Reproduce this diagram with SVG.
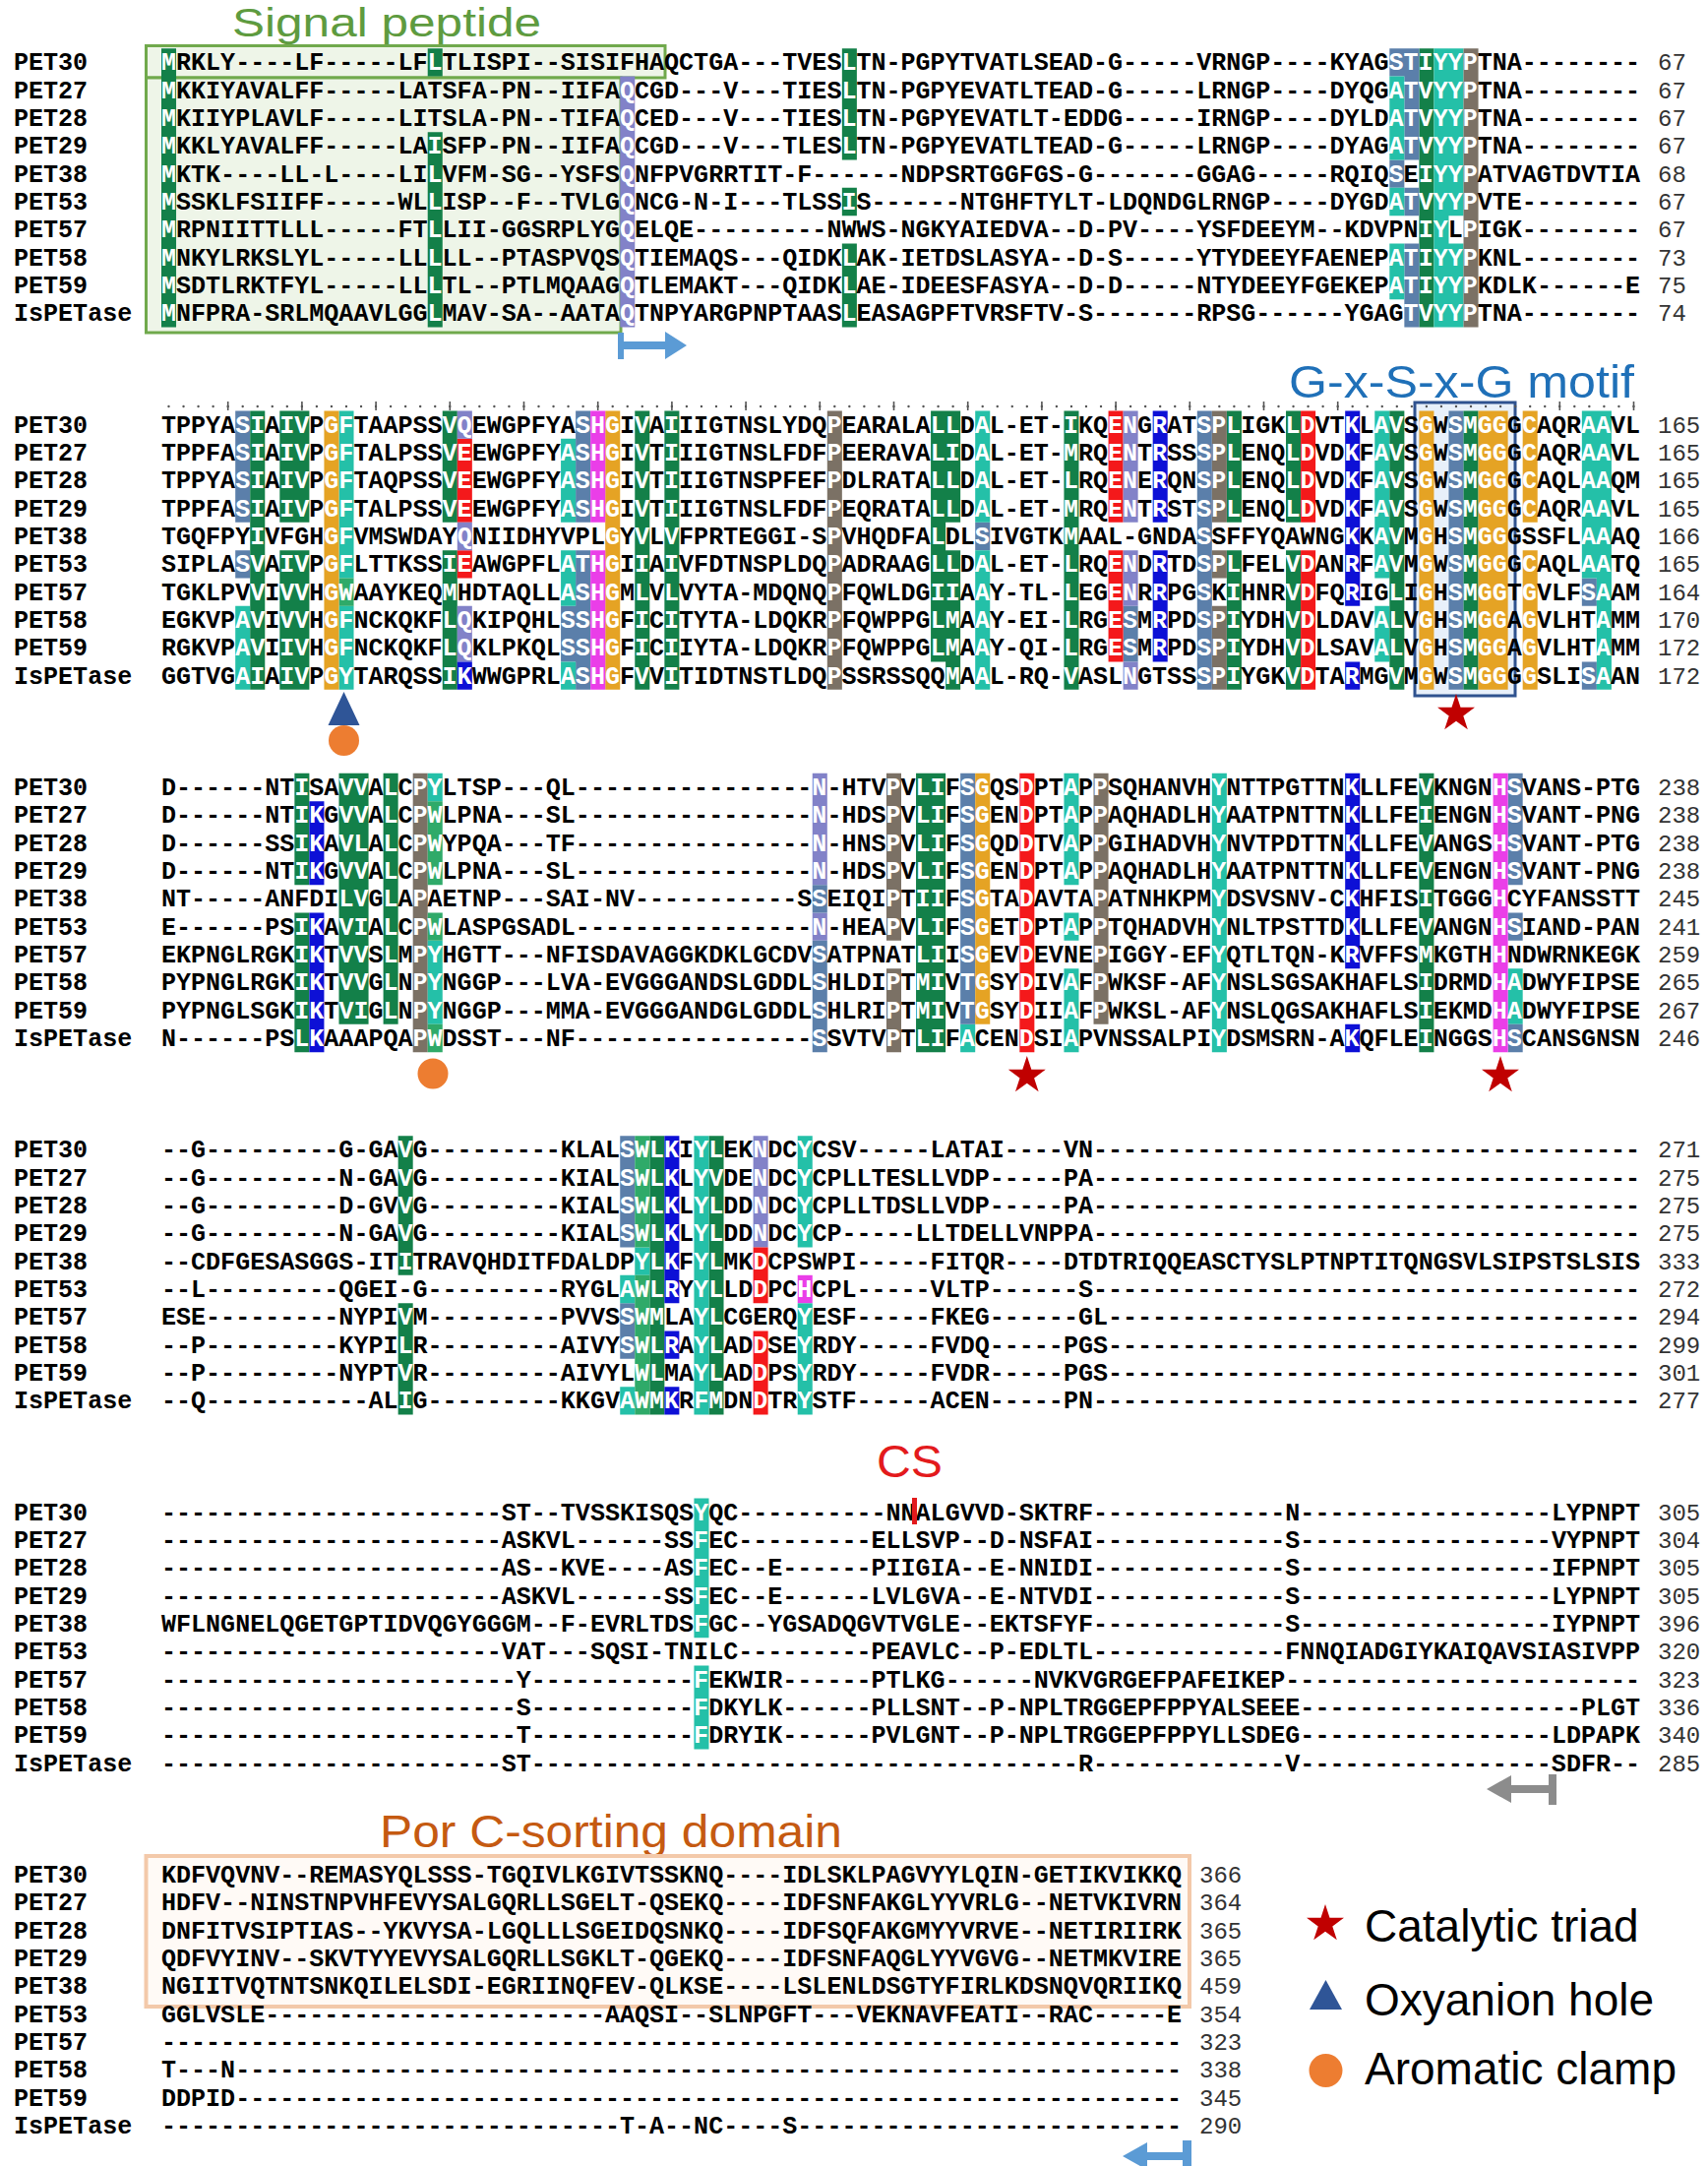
<svg xmlns="http://www.w3.org/2000/svg" width="1736" height="2201" viewBox="0 0 1736 2201">
<style>
.s{font:700 25.06px "Liberation Mono",monospace;fill:#000}
.s tspan{fill:#fff}
.n{font:400 24px "Liberation Mono",monospace;fill:#333}
.ttl{font-family:"Liberation Sans",Arial,sans-serif}
.cg{fill:#138049}.ct{fill:#24c0a8}.cs{fill:#5b7faa}.cp{fill:#7b7165}.co{fill:#e5a324}
.cm{fill:#ea3ee8}.cr{fill:#f4191b}.cq{fill:#8282c8}.cb{fill:#0d10d6}.cw{fill:#2faa69}
</style>
<defs>
<polygon id="star" points="0,-20 4.5,-6.2 19,-6.2 7.3,2.4 11.8,16.2 0,7.7 -11.8,16.2 -7.3,2.4 -19,-6.2 -4.5,-6.2" fill="#c00000"/>
</defs>
<rect width="1736" height="2201" fill="#fff"/>

<!-- titles -->
<text class="ttl" x="236" y="37" font-size="41" fill="#5e9b3f" textLength="314" lengthAdjust="spacingAndGlyphs">Signal peptide</text>
<text class="ttl" x="1310" y="404" font-size="46" fill="#1f70b8" textLength="351" lengthAdjust="spacingAndGlyphs">G-x-S-x-G motif</text>
<text class="ttl" x="891" y="1501" font-size="46" fill="#e31a1c" textLength="67" lengthAdjust="spacingAndGlyphs">CS</text>
<text class="ttl" x="386" y="1877" font-size="46" fill="#c55a11" textLength="470" lengthAdjust="spacingAndGlyphs">Por C-sorting domain</text>

<!-- boxes behind -->
<rect x="148.5" y="46.5" width="527.5" height="32.5" fill="#eef5e8" stroke="#70a94c" stroke-width="3"/>
<rect x="148.5" y="79" width="482.5" height="259" fill="#eef5e8" stroke="#70a94c" stroke-width="3"/>
<rect x="1438" y="409" width="102" height="298" fill="#e8f0fa" stroke="#2f528f" stroke-width="3"/>
<rect x="148.5" y="1886" width="1060.5" height="153" fill="#fffaf6" stroke="#f3c9aa" stroke-width="4"/>

<!-- ruler above block 2 -->
<line x1="171.5" y1="413" x2="1668" y2="413" stroke="#555" stroke-width="2.4" stroke-linecap="round" stroke-dasharray="0 15.04"/>
<path stroke="#555" stroke-width="1.6" d="M231.7 408v9M306.9 408v9M382.1 408v9M457.3 408v9M532.5 408v9M607.7 408v9M682.9 408v9M758.1 408v9M833.3 408v9M908.5 408v9M983.7 408v9M1058.9 408v9M1134.1 408v9M1209.3 408v9M1284.5 408v9M1359.7 408v9M1585.3 408v9M1660.5 408v9"/>

<!-- BLOCK 1 -->
<g id="block1">
<g transform="translate(164,49.13) scale(15.04,28.333)">
<path class="cg" d="M0 0h1v10h-1zM18 0h1v1h-1zM18 3h1v7h-1zM46 0h1v4h-1zM46 5h1v1h-1zM46 7h1v3h-1zM85 0h1v10h-1z"/>
<path class="cq" d="M31 1h1v9h-1z"/>
<path class="cs" d="M83 0h1v1h-1zM83 4h1v1h-1zM84 0h1v4h-1zM84 5h1v1h-1zM84 7h1v3h-1z"/>
<path class="ct" d="M83 1h1v3h-1zM83 5h1v1h-1zM83 7h1v2h-1zM86 0h1v10h-1zM87 0h1v6h-1zM87 7h1v3h-1z"/>
<path class="cp" d="M88 0h1v10h-1z"/>
</g>
<text class="s" x="14" y="71.3">PET30</text>
<text class="s" x="14" y="99.63">PET27</text>
<text class="s" x="14" y="127.97">PET28</text>
<text class="s" x="14" y="156.3">PET29</text>
<text class="s" x="14" y="184.63">PET38</text>
<text class="s" x="14" y="212.97">PET53</text>
<text class="s" x="14" y="241.3">PET57</text>
<text class="s" x="14" y="269.63">PET58</text>
<text class="s" x="14" y="297.97">PET59</text>
<text class="s" x="14" y="326.3">IsPETase</text>
<text class="s" x="164" y="71.3"><tspan>M</tspan>RKLY----LF-----LF<tspan>L</tspan>TLISPI--SISIFHAQCTGA---TVES<tspan>L</tspan>TN-PGPYTVATLSEAD-G-----VRNGP----KYAG<tspan>STIYYP</tspan>TNA--------</text>
<text class="s" x="164" y="99.63"><tspan>M</tspan>KKIYAVALFF-----LATSFA-PN--IIFA<tspan>Q</tspan>CGD---V---TIES<tspan>L</tspan>TN-PGPYEVATLTEAD-G-----LRNGP----DYQG<tspan>ATVYYP</tspan>TNA--------</text>
<text class="s" x="164" y="127.97"><tspan>M</tspan>KIIYPLAVLF-----LITSLA-PN--TIFA<tspan>Q</tspan>CED---V---TIES<tspan>L</tspan>TN-PGPYEVATLT-EDDG-----IRNGP----DYLD<tspan>ATVYYP</tspan>TNA--------</text>
<text class="s" x="164" y="156.3"><tspan>M</tspan>KKLYAVALFF-----LA<tspan>I</tspan>SFP-PN--IIFA<tspan>Q</tspan>CGD---V---TLES<tspan>L</tspan>TN-PGPYEVATLTEAD-G-----LRNGP----DYAG<tspan>ATVYYP</tspan>TNA--------</text>
<text class="s" x="164" y="184.63"><tspan>M</tspan>KTK----LL-L----LI<tspan>L</tspan>VFM-SG--YSFS<tspan>Q</tspan>NFPVGRRTIT-F------NDPSRTGGFGS-G-------GGAG-----RQIQ<tspan>S</tspan>E<tspan>IYYP</tspan>ATVAGTDVTIA</text>
<text class="s" x="164" y="212.97"><tspan>M</tspan>SSKLFSIIFF-----WL<tspan>L</tspan>ISP--F--TVLG<tspan>Q</tspan>NCG-N-I---TLSS<tspan>I</tspan>S------NTGHFTYLT-LDQNDGLRNGP----DYGD<tspan>ATVYYP</tspan>VTE--------</text>
<text class="s" x="164" y="241.3"><tspan>M</tspan>RPNIITTLLL-----FT<tspan>L</tspan>LII-GGSRPLYG<tspan>Q</tspan>ELQE---------NWWS-NGKYAIEDVA--D-PV----YSFDEEYM--KDVPN<tspan>IY</tspan>L<tspan>P</tspan>IGK--------</text>
<text class="s" x="164" y="269.63"><tspan>M</tspan>NKYLRKSLYL-----LL<tspan>L</tspan>LL--PTASPVQS<tspan>Q</tspan>TIEMAQS---QIDK<tspan>L</tspan>AK-IETDSLASYA--D-S-----YTYDEEYFAENEP<tspan>ATIYYP</tspan>KNL--------</text>
<text class="s" x="164" y="297.97"><tspan>M</tspan>SDTLRKTFYL-----LL<tspan>L</tspan>TL--PTLMQAAG<tspan>Q</tspan>TLEMAKT---QIDK<tspan>L</tspan>AE-IDEESFASYA--D-D-----NTYDEEYFGEKEP<tspan>ATIYYP</tspan>KDLK------E</text>
<text class="s" x="164" y="326.3"><tspan>M</tspan>NFPRA-SRLMQAAVLGG<tspan>L</tspan>MAV-SA--AATA<tspan>Q</tspan>TNPYARGPNPTAAS<tspan>L</tspan>EASAGPFTVRSFTV-S-------RPSG------YGAG<tspan>TVYYP</tspan>TNA--------</text>
<text class="n" x="1685" y="71.3">67</text>
<text class="n" x="1685" y="99.63">67</text>
<text class="n" x="1685" y="127.97">67</text>
<text class="n" x="1685" y="156.3">67</text>
<text class="n" x="1685" y="184.63">68</text>
<text class="n" x="1685" y="212.97">67</text>
<text class="n" x="1685" y="241.3">67</text>
<text class="n" x="1685" y="269.63">73</text>
<text class="n" x="1685" y="297.97">75</text>
<text class="n" x="1685" y="326.3">74</text>
</g>

<!-- BLOCK 2 -->
<g id="block2" transform="translate(0,368.333)">
<g transform="translate(164,49.13) scale(15.04,28.333)">
<path class="cs" d="M5 0h1v4h-1zM5 5h1v1h-1zM28 0h1v4h-1zM28 5h1v5h-1zM27 7h1v2h-1zM55 4h1v1h-1zM65 7h1v2h-1zM70 0h1v10h-1zM87 0h1v10h-1zM96 6h1v1h-1zM96 9h1v1h-1z"/>
<path class="ct" d="M5 7h1v3h-1zM12 0h1v6h-1zM12 7h1v3h-1zM27 1h1v3h-1zM27 5h1v2h-1zM27 9h1v1h-1zM55 0h1v4h-1zM55 5h1v5h-1zM82 0h1v6h-1zM82 7h1v2h-1zM96 0h1v6h-1zM97 0h1v10h-1z"/>
<path class="cg" d="M6 0h1v10h-1zM8 0h2v4h-2zM8 5h2v5h-2zM19 0h1v4h-1zM19 5h1v5h-1zM32 0h1v10h-1zM34 0h1v10h-1zM52 0h1v9h-1zM53 0h1v4h-1zM53 5h1v5h-1zM61 0h1v10h-1zM72 0h1v4h-1zM72 5h1v5h-1zM76 0h1v4h-1zM76 5h1v5h-1zM83 0h1v10h-1zM88 0h1v10h-1z"/>
<path class="cw" d="M12 6h1v1h-1z"/>
<path class="co" d="M11 0h1v10h-1zM30 0h1v10h-1zM85 0h1v10h-1zM89 0h2v10h-2zM92 0h1v4h-1zM92 5h1v5h-1z"/>
<path class="cm" d="M29 0h1v4h-1zM29 5h1v5h-1z"/>
<path class="cr" d="M20 1h1v3h-1zM20 5h1v1h-1zM64 0h1v4h-1zM64 5h1v4h-1zM77 0h1v4h-1zM77 5h1v5h-1z"/>
<path class="cq" d="M20 0h1v1h-1zM20 4h1v1h-1zM20 7h1v2h-1zM65 0h1v4h-1zM65 5h1v2h-1zM65 9h1v1h-1z"/>
<path class="cb" d="M20 9h1v1h-1zM67 0h1v4h-1zM67 5h1v4h-1zM80 0h1v7h-1zM80 9h1v1h-1z"/>
<path class="cp" d="M45 0h1v10h-1zM71 0h1v4h-1zM71 5h1v1h-1zM71 7h1v3h-1z"/>
</g>
<text class="s" x="14" y="71.3">PET30</text>
<text class="s" x="14" y="99.63">PET27</text>
<text class="s" x="14" y="127.97">PET28</text>
<text class="s" x="14" y="156.3">PET29</text>
<text class="s" x="14" y="184.63">PET38</text>
<text class="s" x="14" y="212.97">PET53</text>
<text class="s" x="14" y="241.3">PET57</text>
<text class="s" x="14" y="269.63">PET58</text>
<text class="s" x="14" y="297.97">PET59</text>
<text class="s" x="14" y="326.3">IsPETase</text>
<text class="s" x="164" y="71.3">TPPYA<tspan>SI</tspan>A<tspan>IV</tspan>P<tspan>GF</tspan>TAAPSS<tspan>VQ</tspan>EWGPFYA<tspan>SHG</tspan>I<tspan>V</tspan>A<tspan>I</tspan>IIGTNSLYDQ<tspan>P</tspan>EARALA<tspan>LL</tspan>D<tspan>A</tspan>L-ET-<tspan>I</tspan>KQ<tspan>EN</tspan>G<tspan>R</tspan>AT<tspan>SPL</tspan>IGK<tspan>LD</tspan>VT<tspan>K</tspan>L<tspan>AV</tspan>S<tspan>G</tspan>W<tspan>SMGG</tspan>G<tspan>C</tspan>AQR<tspan>AA</tspan>VL</text>
<text class="s" x="164" y="99.63">TPPFA<tspan>SI</tspan>A<tspan>IV</tspan>P<tspan>GF</tspan>TALPSS<tspan>VE</tspan>EWGPFY<tspan>ASHG</tspan>I<tspan>V</tspan>T<tspan>I</tspan>IIGTNSLFDF<tspan>P</tspan>EERAVA<tspan>LI</tspan>D<tspan>A</tspan>L-ET-<tspan>M</tspan>RQ<tspan>EN</tspan>T<tspan>R</tspan>SS<tspan>SPL</tspan>ENQ<tspan>LD</tspan>VD<tspan>K</tspan>F<tspan>AV</tspan>S<tspan>G</tspan>W<tspan>SMGG</tspan>G<tspan>C</tspan>AQR<tspan>AA</tspan>VL</text>
<text class="s" x="164" y="127.97">TPPYA<tspan>SI</tspan>A<tspan>IV</tspan>P<tspan>GF</tspan>TAQPSS<tspan>VE</tspan>EWGPFY<tspan>ASHG</tspan>I<tspan>V</tspan>T<tspan>I</tspan>IIGTNSPFEF<tspan>P</tspan>DLRATA<tspan>LL</tspan>D<tspan>A</tspan>L-ET-<tspan>L</tspan>RQ<tspan>EN</tspan>E<tspan>R</tspan>QN<tspan>SPL</tspan>ENQ<tspan>LD</tspan>VD<tspan>K</tspan>F<tspan>AV</tspan>S<tspan>G</tspan>W<tspan>SMGG</tspan>G<tspan>C</tspan>AQL<tspan>AA</tspan>QM</text>
<text class="s" x="164" y="156.3">TPPFA<tspan>SI</tspan>A<tspan>IV</tspan>P<tspan>GF</tspan>TALPSS<tspan>VE</tspan>EWGPFY<tspan>ASHG</tspan>I<tspan>V</tspan>T<tspan>I</tspan>IIGTNSLFDF<tspan>P</tspan>EQRATA<tspan>LL</tspan>D<tspan>A</tspan>L-ET-<tspan>M</tspan>RQ<tspan>EN</tspan>T<tspan>R</tspan>ST<tspan>SPL</tspan>ENQ<tspan>LD</tspan>VD<tspan>K</tspan>F<tspan>AV</tspan>S<tspan>G</tspan>W<tspan>SMGG</tspan>G<tspan>C</tspan>AQR<tspan>AA</tspan>VL</text>
<text class="s" x="164" y="184.63">TGQFPY<tspan>I</tspan>VFGH<tspan>GF</tspan>VMSWDAY<tspan>Q</tspan>NIIDHYVPL<tspan>G</tspan>Y<tspan>V</tspan>L<tspan>V</tspan>FPRTEGGI-S<tspan>P</tspan>VHQDFA<tspan>L</tspan>DL<tspan>S</tspan>IVGTK<tspan>M</tspan>AAL-GNDA<tspan>S</tspan>SFFYQAWNG<tspan>K</tspan>K<tspan>AV</tspan>M<tspan>G</tspan>H<tspan>SMGG</tspan>GSSFL<tspan>AA</tspan>AQ</text>
<text class="s" x="164" y="212.97">SIPLA<tspan>SV</tspan>A<tspan>IV</tspan>P<tspan>GF</tspan>LTTKSS<tspan>IE</tspan>AWGPFL<tspan>ATHG</tspan>I<tspan>I</tspan>A<tspan>I</tspan>VFDTNSPLDQ<tspan>P</tspan>ADRAAG<tspan>LL</tspan>D<tspan>A</tspan>L-ET-<tspan>L</tspan>RQ<tspan>EN</tspan>D<tspan>R</tspan>TD<tspan>SPL</tspan>FEL<tspan>VD</tspan>AN<tspan>R</tspan>F<tspan>AV</tspan>M<tspan>G</tspan>W<tspan>SMGG</tspan>G<tspan>C</tspan>AQL<tspan>AA</tspan>TQ</text>
<text class="s" x="164" y="241.3">TGKLPV<tspan>V</tspan>I<tspan>VV</tspan>H<tspan>GW</tspan>AAYKEQ<tspan>M</tspan>HDTAQLL<tspan>ASHG</tspan>M<tspan>L</tspan>V<tspan>L</tspan>VYTA-MDQNQ<tspan>P</tspan>FQWLDG<tspan>II</tspan>A<tspan>A</tspan>Y-TL-<tspan>L</tspan>EG<tspan>EN</tspan>R<tspan>R</tspan>PG<tspan>S</tspan>K<tspan>I</tspan>HNR<tspan>VD</tspan>FQ<tspan>R</tspan>IG<tspan>L</tspan>I<tspan>G</tspan>H<tspan>SMGG</tspan>T<tspan>G</tspan>VLF<tspan>SA</tspan>AM</text>
<text class="s" x="164" y="269.63">EGKVP<tspan>AV</tspan>I<tspan>VV</tspan>H<tspan>GF</tspan>NCKQKF<tspan>LQ</tspan>KIPQHL<tspan>SSHG</tspan>F<tspan>I</tspan>C<tspan>I</tspan>TYTA-LDQKR<tspan>P</tspan>FQWPPG<tspan>LM</tspan>A<tspan>A</tspan>Y-EI-<tspan>L</tspan>RG<tspan>ES</tspan>M<tspan>R</tspan>PD<tspan>SPI</tspan>YDH<tspan>VD</tspan>LDAV<tspan>AL</tspan>V<tspan>G</tspan>H<tspan>SMGG</tspan>A<tspan>G</tspan>VLHT<tspan>A</tspan>MM</text>
<text class="s" x="164" y="297.97">RGKVP<tspan>AV</tspan>I<tspan>IV</tspan>H<tspan>GF</tspan>NCKQKF<tspan>LQ</tspan>KLPKQL<tspan>SSHG</tspan>F<tspan>I</tspan>C<tspan>I</tspan>IYTA-LDQKR<tspan>P</tspan>FQWPPG<tspan>LM</tspan>A<tspan>A</tspan>Y-QI-<tspan>L</tspan>RG<tspan>ES</tspan>M<tspan>R</tspan>PD<tspan>SPI</tspan>YDH<tspan>VD</tspan>LSAV<tspan>AL</tspan>V<tspan>G</tspan>H<tspan>SMGG</tspan>A<tspan>G</tspan>VLHT<tspan>A</tspan>MM</text>
<text class="s" x="164" y="326.3">GGTVG<tspan>AI</tspan>A<tspan>IV</tspan>P<tspan>GY</tspan>TARQSS<tspan>IK</tspan>WWGPRL<tspan>ASHG</tspan>F<tspan>V</tspan>V<tspan>I</tspan>TIDTNSTLDQ<tspan>P</tspan>SSRSSQQ<tspan>M</tspan>A<tspan>A</tspan>L-RQ-<tspan>V</tspan>ASL<tspan>N</tspan>GTSS<tspan>SPI</tspan>YGK<tspan>VD</tspan>TA<tspan>R</tspan>MG<tspan>V</tspan>M<tspan>G</tspan>W<tspan>SMGG</tspan>G<tspan>G</tspan>SLI<tspan>SA</tspan>AN</text>
<text class="n" x="1685" y="71.3">165</text>
<text class="n" x="1685" y="99.63">165</text>
<text class="n" x="1685" y="127.97">165</text>
<text class="n" x="1685" y="156.3">165</text>
<text class="n" x="1685" y="184.63">166</text>
<text class="n" x="1685" y="212.97">165</text>
<text class="n" x="1685" y="241.3">164</text>
<text class="n" x="1685" y="269.63">170</text>
<text class="n" x="1685" y="297.97">172</text>
<text class="n" x="1685" y="326.3">172</text>
</g>

<!-- BLOCK 3 -->
<g id="block3" transform="translate(0,736.667)">
<g transform="translate(164,49.13) scale(15.04,28.333)">
<path class="cg" d="M9 0h1v4h-1zM9 5h1v5h-1zM12 0h2v9h-2zM15 0h1v9h-1zM51 0h2v10h-2zM85 0h1v10h-1z"/>
<path class="cb" d="M10 1h1v3h-1zM10 5h1v5h-1zM80 0h1v7h-1zM80 9h1v1h-1z"/>
<path class="cp" d="M17 0h1v10h-1zM49 0h1v6h-1zM49 7h1v3h-1zM63 0h1v9h-1z"/>
<path class="ct" d="M18 0h1v1h-1zM18 6h1v3h-1zM54 9h1v1h-1zM61 0h1v4h-1zM61 5h1v1h-1zM61 7h1v3h-1zM71 0h1v10h-1zM91 7h1v2h-1z"/>
<path class="cw" d="M18 1h1v3h-1zM18 5h1v1h-1zM18 9h1v1h-1z"/>
<path class="cq" d="M44 0h1v4h-1zM44 5h1v1h-1z"/>
<path class="cs" d="M44 4h1v1h-1zM44 6h1v4h-1zM54 0h1v9h-1zM91 0h1v4h-1zM91 5h1v1h-1zM91 9h1v1h-1z"/>
<path class="co" d="M55 0h1v9h-1z"/>
<path class="cr" d="M58 0h1v10h-1z"/>
<path class="cm" d="M90 0h1v10h-1z"/>
</g>
<text class="s" x="14" y="71.3">PET30</text>
<text class="s" x="14" y="99.63">PET27</text>
<text class="s" x="14" y="127.97">PET28</text>
<text class="s" x="14" y="156.3">PET29</text>
<text class="s" x="14" y="184.63">PET38</text>
<text class="s" x="14" y="212.97">PET53</text>
<text class="s" x="14" y="241.3">PET57</text>
<text class="s" x="14" y="269.63">PET58</text>
<text class="s" x="14" y="297.97">PET59</text>
<text class="s" x="14" y="326.3">IsPETase</text>
<text class="s" x="164" y="71.3">D------NT<tspan>I</tspan>SA<tspan>VV</tspan>A<tspan>L</tspan>C<tspan>PY</tspan>LTSP---QL----------------<tspan>N</tspan>-HTV<tspan>P</tspan>V<tspan>LI</tspan>F<tspan>SG</tspan>QS<tspan>D</tspan>PT<tspan>A</tspan>P<tspan>P</tspan>SQHANVH<tspan>Y</tspan>NTTPGTTN<tspan>K</tspan>LLFE<tspan>V</tspan>KNGN<tspan>HS</tspan>VANS-PTG</text>
<text class="s" x="164" y="99.63">D------NT<tspan>IK</tspan>G<tspan>VV</tspan>A<tspan>L</tspan>C<tspan>PW</tspan>LPNA---SL----------------<tspan>N</tspan>-HDS<tspan>P</tspan>V<tspan>LI</tspan>F<tspan>SG</tspan>EN<tspan>D</tspan>PT<tspan>A</tspan>P<tspan>P</tspan>AQHADLH<tspan>Y</tspan>AATPNTTN<tspan>K</tspan>LLFE<tspan>I</tspan>ENGN<tspan>HS</tspan>VANT-PNG</text>
<text class="s" x="164" y="127.97">D------SS<tspan>IK</tspan>A<tspan>VL</tspan>A<tspan>L</tspan>C<tspan>PW</tspan>YPQA---TF----------------<tspan>N</tspan>-HNS<tspan>P</tspan>V<tspan>LI</tspan>F<tspan>SG</tspan>QD<tspan>D</tspan>TV<tspan>A</tspan>P<tspan>P</tspan>GIHADVH<tspan>Y</tspan>NVTPDTTN<tspan>K</tspan>LLFE<tspan>V</tspan>ANGS<tspan>HS</tspan>VANT-PTG</text>
<text class="s" x="164" y="156.3">D------NT<tspan>IK</tspan>G<tspan>VV</tspan>A<tspan>L</tspan>C<tspan>PW</tspan>LPNA---SL----------------<tspan>N</tspan>-HDS<tspan>P</tspan>V<tspan>LI</tspan>F<tspan>SG</tspan>EN<tspan>D</tspan>PT<tspan>A</tspan>P<tspan>P</tspan>AQHADLH<tspan>Y</tspan>AATPNTTN<tspan>K</tspan>LLFE<tspan>V</tspan>ENGN<tspan>HS</tspan>VANT-PNG</text>
<text class="s" x="164" y="184.63">NT-----ANFDI<tspan>LV</tspan>G<tspan>L</tspan>A<tspan>P</tspan>AETNP---SAI-NV-----------S<tspan>S</tspan>EIQI<tspan>P</tspan>T<tspan>II</tspan>F<tspan>SG</tspan>TA<tspan>D</tspan>AVTA<tspan>P</tspan>ATNHKPM<tspan>Y</tspan>DSVSNV-C<tspan>K</tspan>HFIS<tspan>I</tspan>TGGG<tspan>H</tspan>CYFANSSTT</text>
<text class="s" x="164" y="212.97">E------PS<tspan>IK</tspan>A<tspan>VI</tspan>A<tspan>L</tspan>C<tspan>PW</tspan>LASPGSADL----------------<tspan>N</tspan>-HEA<tspan>P</tspan>V<tspan>LI</tspan>F<tspan>SG</tspan>ET<tspan>D</tspan>PT<tspan>A</tspan>P<tspan>P</tspan>TQHADVH<tspan>Y</tspan>NLTPSTTD<tspan>K</tspan>LLFE<tspan>V</tspan>ANGN<tspan>HS</tspan>IAND-PAN</text>
<text class="s" x="164" y="241.3">EKPNGLRGK<tspan>IK</tspan>T<tspan>VV</tspan>S<tspan>L</tspan>M<tspan>PY</tspan>HGTT---NFISDAVAGGKDKLGCDV<tspan>S</tspan>ATPNAT<tspan>LI</tspan>I<tspan>SG</tspan>EV<tspan>D</tspan>EVNE<tspan>P</tspan>IGGY-EF<tspan>Y</tspan>QTLTQN-K<tspan>R</tspan>VFFS<tspan>M</tspan>KGTH<tspan>H</tspan>NDWRNKEGK</text>
<text class="s" x="164" y="269.63">PYPNGLRGK<tspan>IK</tspan>T<tspan>VV</tspan>G<tspan>L</tspan>N<tspan>PY</tspan>NGGP---LVA-EVGGGANDSLGDDL<tspan>S</tspan>HLDI<tspan>P</tspan>T<tspan>MI</tspan>V<tspan>TG</tspan>SY<tspan>D</tspan>IV<tspan>A</tspan>F<tspan>P</tspan>WKSF-AF<tspan>Y</tspan>NSLSGSAKHAFLS<tspan>I</tspan>DRMD<tspan>HA</tspan>DWYFIPSE</text>
<text class="s" x="164" y="297.97">PYPNGLSGK<tspan>IK</tspan>T<tspan>VI</tspan>G<tspan>L</tspan>N<tspan>PY</tspan>NGGP---MMA-EVGGGANDGLGDDL<tspan>S</tspan>HLRI<tspan>P</tspan>T<tspan>MI</tspan>V<tspan>TG</tspan>SY<tspan>D</tspan>II<tspan>A</tspan>F<tspan>P</tspan>WKSL-AF<tspan>Y</tspan>NSLQGSAKHAFLS<tspan>I</tspan>EKMD<tspan>HA</tspan>DWYFIPSE</text>
<text class="s" x="164" y="326.3">N------PS<tspan>LK</tspan>AAAPQA<tspan>PW</tspan>DSST---NF----------------<tspan>S</tspan>SVTV<tspan>P</tspan>T<tspan>LI</tspan>F<tspan>A</tspan>CEN<tspan>D</tspan>SI<tspan>A</tspan>PVNSSALPI<tspan>Y</tspan>DSMSRN-A<tspan>K</tspan>QFLE<tspan>I</tspan>NGGS<tspan>HS</tspan>CANSGNSN</text>
<text class="n" x="1685" y="71.3">238</text>
<text class="n" x="1685" y="99.63">238</text>
<text class="n" x="1685" y="127.97">238</text>
<text class="n" x="1685" y="156.3">238</text>
<text class="n" x="1685" y="184.63">245</text>
<text class="n" x="1685" y="212.97">241</text>
<text class="n" x="1685" y="241.3">259</text>
<text class="n" x="1685" y="269.63">265</text>
<text class="n" x="1685" y="297.97">267</text>
<text class="n" x="1685" y="326.3">246</text>
</g>

<!-- BLOCK 4 -->
<g id="block4" transform="translate(0,1105)">
<g transform="translate(164,49.13) scale(15.04,28.333)">
<path class="cg" d="M16 0h1v5h-1zM16 6h1v4h-1zM33 0h1v10h-1zM37 0h1v10h-1z"/>
<path class="cs" d="M31 0h1v4h-1zM31 6h1v2h-1z"/>
<path class="ct" d="M31 5h1v1h-1zM31 9h1v1h-1zM32 4h1v1h-1zM36 0h1v10h-1zM43 0h1v4h-1zM43 6h1v4h-1z"/>
<path class="cw" d="M32 0h1v4h-1zM32 5h1v5h-1z"/>
<path class="cb" d="M34 0h1v6h-1zM34 7h1v1h-1zM34 9h1v1h-1z"/>
<path class="cq" d="M40 0h1v4h-1z"/>
<path class="cr" d="M40 4h1v2h-1zM40 7h1v3h-1z"/>
<path class="cm" d="M43 5h1v1h-1z"/>
</g>
<text class="s" x="14" y="71.3">PET30</text>
<text class="s" x="14" y="99.63">PET27</text>
<text class="s" x="14" y="127.97">PET28</text>
<text class="s" x="14" y="156.3">PET29</text>
<text class="s" x="14" y="184.63">PET38</text>
<text class="s" x="14" y="212.97">PET53</text>
<text class="s" x="14" y="241.3">PET57</text>
<text class="s" x="14" y="269.63">PET58</text>
<text class="s" x="14" y="297.97">PET59</text>
<text class="s" x="14" y="326.3">IsPETase</text>
<text class="s" x="164" y="71.3">--G---------G-GA<tspan>V</tspan>G---------KLAL<tspan>SWLK</tspan>I<tspan>YL</tspan>EK<tspan>N</tspan>DC<tspan>Y</tspan>CSV-----LATAI----VN-------------------------------------</text>
<text class="s" x="164" y="99.63">--G---------N-GA<tspan>V</tspan>G---------KIAL<tspan>SWLK</tspan>L<tspan>YV</tspan>DE<tspan>N</tspan>DC<tspan>Y</tspan>CPLLTESLLVDP-----PA-------------------------------------</text>
<text class="s" x="164" y="127.97">--G---------D-GV<tspan>V</tspan>G---------KIAL<tspan>SWLK</tspan>L<tspan>YL</tspan>DD<tspan>N</tspan>DC<tspan>Y</tspan>CPLLTDSLLVDP-----PA-------------------------------------</text>
<text class="s" x="164" y="156.3">--G---------N-GA<tspan>V</tspan>G---------KIAL<tspan>SWLK</tspan>L<tspan>YL</tspan>DD<tspan>N</tspan>DC<tspan>Y</tspan>CP-----LLTDELLVNPPA-------------------------------------</text>
<text class="s" x="164" y="184.63">--CDFGESASGGS-IT<tspan>I</tspan>TRAVQHDITFDALDP<tspan>YLK</tspan>F<tspan>YL</tspan>MK<tspan>D</tspan>CPSWPI-----FITQR----DTDTRIQQEASCTYSLPTNPTITQNGSVLSIPSTSLSIS</text>
<text class="s" x="164" y="212.97">--L---------QGEI-G---------RYGL<tspan>AWLR</tspan>Y<tspan>YL</tspan>LD<tspan>D</tspan>PC<tspan>H</tspan>CPL-----VLTP------S-------------------------------------</text>
<text class="s" x="164" y="241.3">ESE---------NYPI<tspan>V</tspan>M---------PVVS<tspan>SWM</tspan>LA<tspan>YL</tspan>CGERQ<tspan>Y</tspan>ESF-----FKEG------GL------------------------------------</text>
<text class="s" x="164" y="269.63">--P---------KYPI<tspan>L</tspan>R---------AIVY<tspan>SWLR</tspan>A<tspan>YL</tspan>AD<tspan>D</tspan>SE<tspan>Y</tspan>RDY-----FVDQ-----PGS------------------------------------</text>
<text class="s" x="164" y="297.97">--P---------NYPT<tspan>V</tspan>R---------AIVYL<tspan>WL</tspan>MA<tspan>YL</tspan>AD<tspan>D</tspan>PS<tspan>Y</tspan>RDY-----FVDR-----PGS------------------------------------</text>
<text class="s" x="164" y="326.3">--Q-----------AL<tspan>I</tspan>G---------KKGV<tspan>AWMK</tspan>R<tspan>FM</tspan>DN<tspan>D</tspan>TR<tspan>Y</tspan>STF-----ACEN-----PN-------------------------------------</text>
<text class="n" x="1685" y="71.3">271</text>
<text class="n" x="1685" y="99.63">275</text>
<text class="n" x="1685" y="127.97">275</text>
<text class="n" x="1685" y="156.3">275</text>
<text class="n" x="1685" y="184.63">333</text>
<text class="n" x="1685" y="212.97">272</text>
<text class="n" x="1685" y="241.3">294</text>
<text class="n" x="1685" y="269.63">299</text>
<text class="n" x="1685" y="297.97">301</text>
<text class="n" x="1685" y="326.3">277</text>
</g>

<!-- BLOCK 5 -->
<g id="block5" transform="translate(0,1473.333)">
<g transform="translate(164,49.13) scale(15.04,28.333)">
<path class="ct" d="M36 0h1v5h-1zM36 6h1v3h-1z"/>
</g>
<text class="s" x="14" y="71.3">PET30</text>
<text class="s" x="14" y="99.63">PET27</text>
<text class="s" x="14" y="127.97">PET28</text>
<text class="s" x="14" y="156.3">PET29</text>
<text class="s" x="14" y="184.63">PET38</text>
<text class="s" x="14" y="212.97">PET53</text>
<text class="s" x="14" y="241.3">PET57</text>
<text class="s" x="14" y="269.63">PET58</text>
<text class="s" x="14" y="297.97">PET59</text>
<text class="s" x="14" y="326.3">IsPETase</text>
<text class="s" x="164" y="71.3">-----------------------ST--TVSSKISQS<tspan>Y</tspan>QC----------NNALGVVD-SKTRF-------------N-----------------LYPNPT</text>
<text class="s" x="164" y="99.63">-----------------------ASKVL------SS<tspan>F</tspan>EC---------ELLSVP--D-NSFAI-------------S-----------------VYPNPT</text>
<text class="s" x="164" y="127.97">-----------------------AS--KVE----AS<tspan>F</tspan>EC--E------PIIGIA--E-NNIDI-------------S-----------------IFPNPT</text>
<text class="s" x="164" y="156.3">-----------------------ASKVL------SS<tspan>F</tspan>EC--E------LVLGVA--E-NTVDI-------------S-----------------LYPNPT</text>
<text class="s" x="164" y="184.63">WFLNGNELQGETGPTIDVQGYGGGM--F-EVRLTDS<tspan>F</tspan>GC--YGSADQGVTVGLE--EKTSFYF-------------S-----------------IYPNPT</text>
<text class="s" x="164" y="212.97">-----------------------VAT---SQSI-TNILC---------PEAVLC--P-EDLTL-------------FNNQIADGIYKAIQAVSIASIVPP</text>
<text class="s" x="164" y="241.3">------------------------Y-----------<tspan>F</tspan>EKWIR------PTLKG------NVKVGRGEFPAFEIKEP------------------------</text>
<text class="s" x="164" y="269.63">------------------------S-----------<tspan>F</tspan>DKYLK------PLLSNT--P-NPLTRGGEPFPPYALSEEE-------------------PLGT</text>
<text class="s" x="164" y="297.97">------------------------T-----------<tspan>F</tspan>DRYIK------PVLGNT--P-NPLTRGGEPFPPYLLSDEG-----------------LDPAPK</text>
<text class="s" x="164" y="326.3">-----------------------ST-------------------------------------R-------------V-----------------SDFR--</text>
<text class="n" x="1685" y="71.3">305</text>
<text class="n" x="1685" y="99.63">304</text>
<text class="n" x="1685" y="127.97">305</text>
<text class="n" x="1685" y="156.3">305</text>
<text class="n" x="1685" y="184.63">396</text>
<text class="n" x="1685" y="212.97">320</text>
<text class="n" x="1685" y="241.3">323</text>
<text class="n" x="1685" y="269.63">336</text>
<text class="n" x="1685" y="297.97">340</text>
<text class="n" x="1685" y="326.3">285</text>
</g>

<!-- BLOCK 6 -->
<g id="block6" transform="translate(0,1841.667)">
<text class="s" x="14" y="71.3">PET30</text>
<text class="s" x="14" y="99.63">PET27</text>
<text class="s" x="14" y="127.97">PET28</text>
<text class="s" x="14" y="156.3">PET29</text>
<text class="s" x="14" y="184.63">PET38</text>
<text class="s" x="14" y="212.97">PET53</text>
<text class="s" x="14" y="241.3">PET57</text>
<text class="s" x="14" y="269.63">PET58</text>
<text class="s" x="14" y="297.97">PET59</text>
<text class="s" x="14" y="326.3">IsPETase</text>
<text class="s" x="164" y="71.3">KDFVQVNV--REMASYQLSSS-TGQIVLKGIVTSSKNQ----IDLSKLPAGVYYLQIN-GETIKVIKKQ</text>
<text class="s" x="164" y="99.63">HDFV--NINSTNPVHFEVYSALGQRLLSGELT-QSEKQ----IDFSNFAKGLYYVRLG--NETVKIVRN</text>
<text class="s" x="164" y="127.97">DNFITVSIPTIAS--YKVYSA-LGQLLLSGEIDQSNKQ----IDFSQFAKGMYYVRVE--NETIRIIRK</text>
<text class="s" x="164" y="156.3">QDFVYINV--SKVTYYEVYSALGQRLLSGKLT-QGEKQ----IDFSNFAQGLYYVGVG--NETMKVIRE</text>
<text class="s" x="164" y="184.63">NGIITVQTNTSNKQILELSDI-EGRIINQFEV-QLKSE----LSLENLDSGTYFIRLKDSNQVQRIIKQ</text>
<text class="s" x="164" y="212.97">GGLVSLE-----------------------AAQSI--SLNPGFT---VEKNAVFEATI--RAC-----E</text>
<text class="s" x="164" y="241.3">---------------------------------------------------------------------</text>
<text class="s" x="164" y="269.63">T---N----------------------------------------------------------------</text>
<text class="s" x="164" y="297.97">DDPID----------------------------------------------------------------</text>
<text class="s" x="164" y="326.3">-------------------------------T-A--NC----S--------------------------</text>
<text class="n" x="1219" y="71.3">366</text>
<text class="n" x="1219" y="99.63">364</text>
<text class="n" x="1219" y="127.97">365</text>
<text class="n" x="1219" y="156.3">365</text>
<text class="n" x="1219" y="184.63">459</text>
<text class="n" x="1219" y="212.97">354</text>
<text class="n" x="1219" y="241.3">323</text>
<text class="n" x="1219" y="269.63">338</text>
<text class="n" x="1219" y="297.97">345</text>
<text class="n" x="1219" y="326.3">290</text>
</g>

<!-- markers -->
<g id="markers">
<path fill="#5b9bd5" d="M628 338h6v27h-6zM634 347h44v8h-44zM676 337l22 14l-22 14z"/>
<path fill="#8c8c8c" d="M1511 1818l25-14v28zM1534 1814h40v8h-40zM1574 1803h8v31h-8z"/>
<path fill="#5b9bd5" d="M1141 2191l25-14v28zM1164 2187h38v8h-38zM1202 2175h9v30h-9z"/>
<rect x="927" y="1522" width="5" height="27" fill="#e31a1c"/>
<polygon points="349.5,703 333.5,737 365.5,737" fill="#2f5597"/>
<circle cx="349.5" cy="752.5" r="15.5" fill="#ed7d31"/>
<circle cx="440" cy="1091" r="15.5" fill="#ed7d31"/>
<use href="#star" transform="translate(1480,725)"/>
<use href="#star" transform="translate(1043.8,1093)"/>
<use href="#star" transform="translate(1525,1093)"/>
</g>

<!-- legend -->
<g id="legend">
<use href="#star" transform="translate(1347,1955)"/>
<polygon points="1347.5,2012 1331,2042 1364,2042" fill="#2f5597"/>
<circle cx="1347.5" cy="2104" r="17" fill="#ed7d31"/>
<text class="ttl" x="1387" y="1973" font-size="46" fill="#000">Catalytic triad</text>
<text class="ttl" x="1387" y="2048" font-size="46" fill="#000">Oxyanion hole</text>
<text class="ttl" x="1387" y="2118" font-size="46" fill="#000">Aromatic clamp</text>
</g>
</svg>
